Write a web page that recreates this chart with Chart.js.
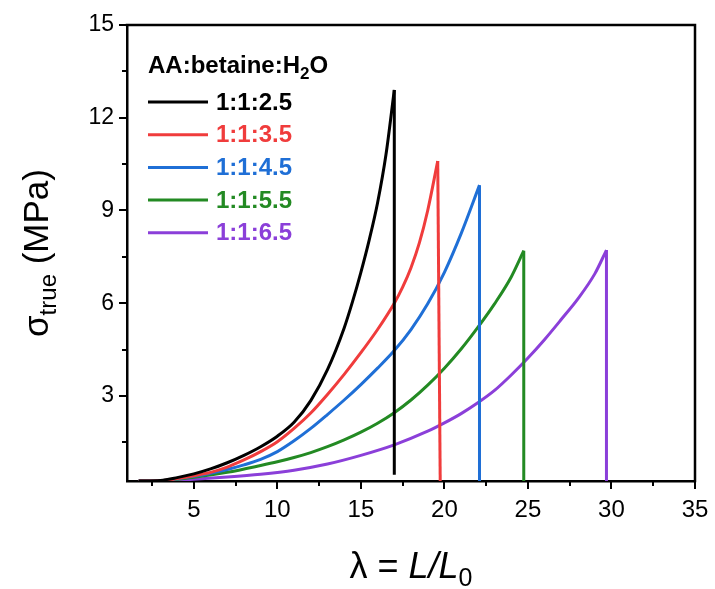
<!DOCTYPE html>
<html>
<head>
<meta charset="utf-8">
<script src="https://cdn.jsdelivr.net/npm/chart.js@4.4.0/dist/chart.umd.min.js"></script>
<style>
  html, body { margin: 0; padding: 0; background: #fff; }
  #wrap { width: 715px; height: 589px; }
</style>
</head>
<body>
<div id="wrap"><canvas id="stressChart" width="715" height="589"></canvas></div>
<script>
// ratios shown in the legend
const ratioLabels = ['1:1:2.5', '1:1:3.5', '1:1:4.5', '1:1:5.5', '1:1:6.5'];
const seriesColors = ['#000000', '#f03c3c', '#1f6fd6', '#238a23', '#8b3fd9'];

// lambda = L/L0 and true stress (MPa)
// last point of each series is the break (vertical drop)
const lambda25 = [1.7, 3, 4, 5, 6, 7, 8, 9, 10, 11, 12, 13, 14, 14.5, 15, 15.5, 16, 16.5, 17.0, 17.0];
const stress25 = [0.25, 0.27, 0.36, 0.48, 0.64, 0.84, 1.08, 1.36, 1.7, 2.15, 2.85, 3.85, 5.2, 6.05, 7.0, 8.05, 9.25, 10.8, 12.9, 0.45];

const lambda35 = [1.7, 3, 4, 5, 6, 7, 8, 9, 10, 11, 12, 13, 14, 15, 16, 17, 17.5, 18, 18.5, 19, 19.6, 19.75];
const stress35 = [0.25, 0.26, 0.33, 0.42, 0.53, 0.7, 0.93, 1.2, 1.52, 1.95, 2.45, 3.05, 3.7, 4.4, 5.15, 6.0, 6.52, 7.15, 7.95, 9.0, 10.6, 0.2];

const lambda45 = [1.7, 3, 4, 5, 6, 7, 8, 9, 10, 11, 12, 13, 14, 15, 16, 17, 18, 19, 20, 21, 22.1, 22.1];
const stress45 = [0.25, 0.26, 0.32, 0.4, 0.5, 0.62, 0.77, 0.95, 1.2, 1.55, 1.95, 2.4, 2.87, 3.37, 3.9, 4.47, 5.15, 5.98, 7.0, 8.25, 9.82, 0.2];

const lambda55 = [1.7, 3, 5, 7, 9, 10, 11, 12, 13, 14, 15, 16, 17, 18, 19, 20, 21, 22, 23, 24, 24.75, 24.75];
const stress55 = [0.25, 0.26, 0.37, 0.53, 0.75, 0.87, 1.01, 1.17, 1.36, 1.58, 1.83, 2.12, 2.46, 2.87, 3.35, 3.9, 4.52, 5.22, 5.98, 6.85, 7.7, 0.2];

const lambda65 = [1.7, 3, 5, 7, 9, 11, 13, 15, 17, 19, 20, 21, 22, 23, 24, 25, 26, 27, 28, 29, 29.7, 29.7];
const stress65 = [0.25, 0.26, 0.31, 0.38, 0.47, 0.6, 0.8, 1.08, 1.42, 1.86, 2.13, 2.43, 2.78, 3.18, 3.68, 4.23, 4.83, 5.48, 6.15, 6.95, 7.72, 0.2];

// axis ticks
const xTicks = [5, 10, 15, 20, 25, 30, 35];
const xMinorTicks = [2.5, 7.5, 12.5, 17.5, 22.5, 27.5, 32.5];
const yTicks = [3, 6, 9, 12, 15];
const yMinorTicks = [1.5, 4.5, 7.5, 10.5, 13.5];

const lambdaSets = [lambda25, lambda35, lambda45, lambda55, lambda65];
const stressSets = [stress25, stress35, stress45, stress55, stress65];

const FONT = '"Liberation Sans", Arial, Helvetica, sans-serif';

const toPoints = (xs, ys) => xs.map((x, j) => ({ x: x, y: ys[j] }));

// smooth rising part + straight drop at break for each ratio
const datasets = [];
ratioLabels.forEach((label, i) => {
    const pts = toPoints(lambdaSets[i], stressSets[i]);
    const n = pts.length;
    datasets.push({
        label: label,
        data: pts.slice(0, n - 1),
        borderColor: seriesColors[i],
        borderWidth: 3,
        pointRadius: 0,
        showLine: true,
        cubicInterpolationMode: 'monotone',
        fill: false
    });
    datasets.push({
        label: label + ' break',
        data: pts.slice(n - 2),
        borderColor: seriesColors[i],
        borderWidth: 3,
        pointRadius: 0,
        showLine: true,
        tension: 0,
        fill: false
    });
});

// frame, outward ticks, axis titles and the in-plot legend
const decorations = {
    id: 'decorations',
    afterDraw(chart) {
        const ctx = chart.ctx;
        const area = chart.chartArea;
        const xs = chart.scales.x;
        const ys = chart.scales.y;
        ctx.save();

        // top and right edges of the box
        ctx.strokeStyle = '#000';
        ctx.lineWidth = 2.5;
        ctx.beginPath();
        ctx.moveTo(area.left - 1.25, area.top);
        ctx.lineTo(area.right, area.top);
        ctx.lineTo(area.right, area.bottom + 1.25);
        ctx.stroke();

        // ticks
        ctx.lineWidth = 2;
        const tickX = (vals, len) => vals.forEach(v => {
            const px = Math.round(xs.getPixelForValue(v));
            ctx.beginPath();
            ctx.moveTo(px, area.bottom);
            ctx.lineTo(px, area.bottom + len);
            ctx.stroke();
        });
        const tickY = (vals, len) => vals.forEach(v => {
            const py = Math.round(ys.getPixelForValue(v));
            ctx.beginPath();
            ctx.moveTo(area.left, py);
            ctx.lineTo(area.left - len, py);
            ctx.stroke();
        });
        tickX(xTicks, 8);
        tickX(xMinorTicks, 5);
        tickY(yTicks, 8);
        tickY(yMinorTicks, 5);

        // x title: λ = L/L0
        ctx.fillStyle = '#000';
        ctx.textBaseline = 'alphabetic';
        ctx.textAlign = 'left';
        const xParts = [
            { t: 'λ = ', f: `36px ${FONT}`, dy: 0 },
            { t: 'L/L', f: `italic 36px ${FONT}`, dy: 0 },
            { t: '0', f: `25px ${FONT}`, dy: 8 }
        ];
        let w = 0;
        xParts.forEach(p => { ctx.font = p.f; p.w = ctx.measureText(p.t).width; w += p.w; });
        let cx = (area.left + area.right) / 2 - w / 2;
        xParts.forEach(p => { ctx.font = p.f; ctx.fillText(p.t, cx, 578 + p.dy); cx += p.w; });

        // y title: σtrue (MPa)
        const yParts = [
            { t: 'σ', f: `35px ${FONT}`, dy: 0 },
            { t: 'true', f: `24px ${FONT}`, dy: 8 },
            { t: ' (MPa)', f: `35px ${FONT}`, dy: 0 }
        ];
        w = 0;
        yParts.forEach(p => { ctx.font = p.f; p.w = ctx.measureText(p.t).width; w += p.w; });
        ctx.save();
        ctx.translate(48, (area.top + area.bottom) / 2);
        ctx.rotate(-Math.PI / 2);
        cx = -w / 2;
        yParts.forEach(p => { ctx.font = p.f; ctx.fillText(p.t, cx, p.dy); cx += p.w; });
        ctx.restore();

        // legend
        const lx = 148;
        ctx.font = `bold 24px ${FONT}`;
        ctx.fillStyle = '#000';
        let tx = lx;
        ctx.fillText('AA:betaine:H', tx, 73);
        tx += ctx.measureText('AA:betaine:H').width;
        ctx.font = `bold 17px ${FONT}`;
        ctx.fillText('2', tx, 79);
        tx += ctx.measureText('2').width;
        ctx.font = `bold 24px ${FONT}`;
        ctx.fillText('O', tx, 73);

        ratioLabels.forEach((label, i) => {
            const yy = 102 + i * 32.7;
            ctx.strokeStyle = seriesColors[i];
            ctx.lineWidth = 3;
            ctx.beginPath();
            ctx.moveTo(lx, yy);
            ctx.lineTo(lx + 60, yy);
            ctx.stroke();
            ctx.fillStyle = seriesColors[i];
            ctx.font = `bold 24px ${FONT}`;
            ctx.textBaseline = 'middle';
            ctx.fillText(label, lx + 68, yy + 1);
            ctx.textBaseline = 'alphabetic';
        });

        ctx.restore();
    }
};

new Chart(document.getElementById('stressChart').getContext('2d'), {
    type: 'scatter',
    data: { datasets: datasets },
    plugins: [decorations],
    options: {
        responsive: false,
        animation: false,
        layout: { padding: { top: 25, right: 20, left: 0, bottom: 0 } },
        plugins: {
            legend: { display: false },
            tooltip: { enabled: false }
        },
        scales: {
            x: {
                type: 'linear',
                min: 1,
                max: 35,
                afterBuildTicks: s => { s.ticks = xTicks.map(v => ({ value: v })); },
                afterFit: s => { s.height = 108; s.paddingLeft = 0; s.paddingRight = 0; },
                grid: { display: false, drawTicks: false },
                border: { display: true, color: '#000', width: 2.5 },
                ticks: { color: '#000', font: { family: FONT, size: 24 }, padding: 15, maxRotation: 0 }
            },
            y: {
                type: 'linear',
                min: 0.25,
                max: 15,
                afterBuildTicks: s => { s.ticks = yTicks.map(v => ({ value: v })); },
                afterFit: s => { s.width = 127; s.paddingTop = 0; s.paddingBottom = 0; },
                grid: { display: false, drawTicks: false },
                border: { display: true, color: '#000', width: 2.5 },
                ticks: { color: '#000', font: { family: FONT, size: 23 }, padding: 13 }
            }
        }
    }
});
</script>
</body>
</html>
